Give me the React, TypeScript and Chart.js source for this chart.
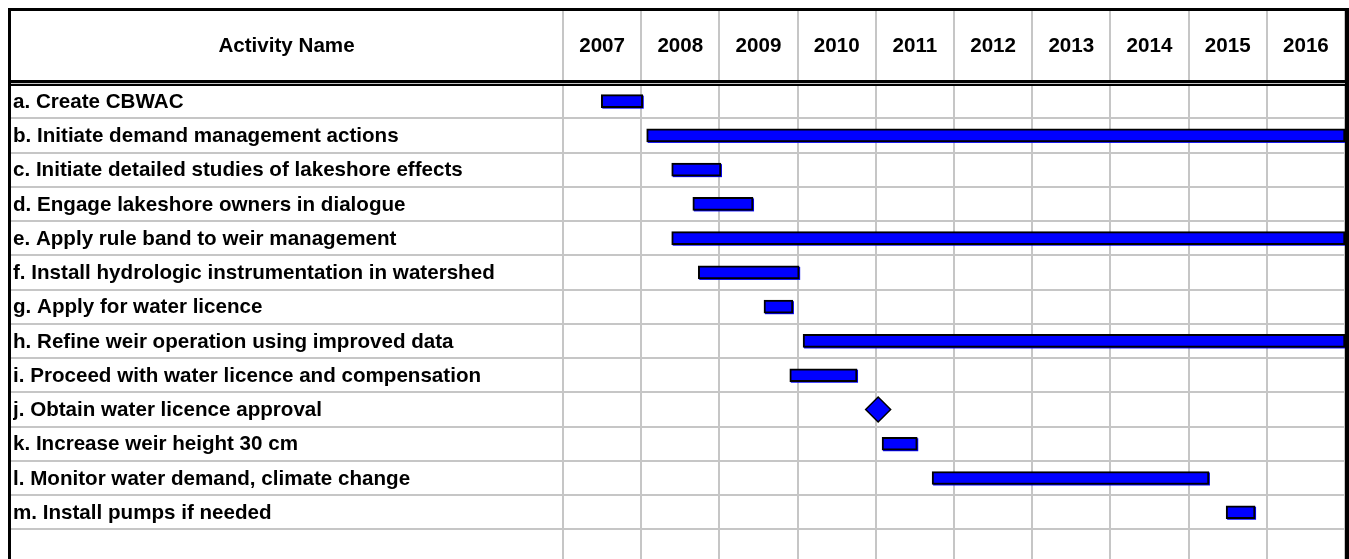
import React, { useEffect, useRef } from 'react';
import { Chart, registerables } from 'chart.js';

Chart.register(...registerables);

const headerTitle = 'Activity Name';
const years = ['2007', '2008', '2009', '2010', '2011', '2012', '2013', '2014', '2015', '2016'];
const activities = [
  'a. Create CBWAC',
  'b. Initiate demand management actions',
  'c. Initiate detailed studies of lakeshore effects',
  'd. Engage lakeshore owners in dialogue',
  'e. Apply rule band to weir management',
  'f. Install hydrologic instrumentation in watershed',
  'g. Apply for water licence',
  'h. Refine weir operation using improved data',
  'i. Proceed with water licence and compensation',
  'j. Obtain water licence approval',
  'k. Increase weir height 30 cm',
  'l. Monitor water demand, climate change',
  'm. Install pumps if needed',
  '',
];
const barStarts = [2007.49, 2008.07, 2008.39, 2008.66, 2008.39, 2008.73, 2009.57, 2010.07, 2009.9, null, 2011.08, 2011.72, 2015.48, null];
const barEnds = [2008.02, 2017, 2009.02, 2009.43, 2017, 2010.02, 2009.94, 2017, 2010.76, null, 2011.53, 2015.26, 2015.85, null];
const milestoneYear = 2011.03;
const milestoneRow = 9;

const FONT = '"Liberation Sans", Arial, sans-serif';
const FONT_SIZE = 20.6;

export default function App() {
  const ref = useRef<HTMLCanvasElement | null>(null);

  useEffect(() => {
    if (!ref.current) return;
    const barData = barStarts.map((s, i) => (s === null || barEnds[i] === null ? null : [s, barEnds[i]]));

    const shadowPlugin = {
      id: 'barShadow',
      beforeDatasetsDraw(chart: any) {
        const { ctx, chartArea } = chart;
        const meta = chart.getDatasetMeta(0);
        ctx.save();
        ctx.beginPath();
        ctx.rect(chartArea.left, chartArea.top, chartArea.right - chartArea.left, chartArea.bottom - chartArea.top);
        ctx.clip();
        ctx.fillStyle = '#0000ff';
        meta.data.forEach((bar: any) => {
          const p = bar.getProps(['x', 'y', 'base', 'height'], true);
          if (![p.x, p.y, p.base, p.height].every((v: number) => Number.isFinite(v))) return;
          const left = Math.min(p.x, p.base);
          const w = Math.abs(p.x - p.base);
          ctx.fillRect(left + 1, p.y - p.height / 2 + 1, w, p.height);
        });
        ctx.restore();
      },
    };

    const framePlugin = {
      id: 'frame',
      afterDraw(chart: any) {
        const { ctx, chartArea } = chart;
        const x = chart.scales.x;
        ctx.save();
        ctx.fillStyle = '#000';
        ctx.font = 'bold ' + FONT_SIZE + 'px ' + FONT;
        ctx.textAlign = 'center';
        ctx.textBaseline = 'middle';
        const headerMid = 46.5;
        ctx.fillText(headerTitle, (10 + chartArea.left) / 2, headerMid);
        years.forEach((yr) => {
          ctx.fillText(yr, x.getPixelForValue(Number(yr) + 0.5), headerMid);
        });
        // frame
        ctx.fillRect(8, 8, 1341, 3);
        ctx.fillRect(8, 8, 3, 580);
        ctx.fillRect(Math.round(chartArea.right), 8, 6, 580);
        // double line under header
        ctx.fillRect(8, 80, 1341, 3);
        ctx.fillRect(8, 84, 1341, 2);
        ctx.restore();
      },
    };

    const chart = new Chart(ref.current, {
      type: 'bar',
      data: {
        labels: activities,
        datasets: [
          {
            type: 'bar',
            data: barData as any,
            backgroundColor: '#0000ff',
            borderColor: '#000000',
            borderWidth: 2,
            borderSkipped: false,
            barThickness: 13,
          } as any,
          {
            type: 'line',
            indexAxis: 'y',
            data: [{ x: milestoneYear, y: activities[milestoneRow] }],
            showLine: false,
            pointStyle: 'rectRot',
            pointRadius: 12.5,
            pointBackgroundColor: '#0000ff',
            pointBorderColor: '#000000',
            pointBorderWidth: 1.5,
          } as any,
        ],
      },
      options: {
        indexAxis: 'y',
        animation: false,
        responsive: false,
        devicePixelRatio: 1,
        layout: { autoPadding: false, padding: { left: 13, right: 4, top: 0, bottom: 15 } },
        plugins: { legend: { display: false }, tooltip: { enabled: false } },
        scales: {
          x: {
            type: 'linear',
            position: 'top',
            min: 2007,
            max: 2017,
            ticks: { display: false, stepSize: 1 },
            grid: { color: '#c6c6c6', lineWidth: 2, drawTicks: true, tickLength: 76 },
            border: { display: false },
            afterFit(scale: any) {
              scale.height = 84;
            },
          },
          y: {
            type: 'category',
            position: 'left',
            ticks: {
              autoSkip: false,
              crossAlign: 'far',
              labelOffset: 1,
              color: '#000',
              font: { family: FONT, size: FONT_SIZE, weight: 'bold' },
            },
            grid: { color: '#c6c6c6', lineWidth: 2, drawTicks: true, tickLength: 553, offset: true },
            border: { display: false },
            afterFit(scale: any) {
              scale.width = 550;
            },
          },
        },
      } as any,
      plugins: [shadowPlugin, framePlugin],
    });
    return () => chart.destroy();
  }, []);

  return (
    <div style={{ position: 'fixed', left: 0, top: 0, width: 1349, height: 559, overflow: 'hidden', background: '#fff' }}>
      <canvas ref={ref} width={1349} height={579} style={{ display: 'block', width: 1349, height: 579 }} />
    </div>
  );
}
